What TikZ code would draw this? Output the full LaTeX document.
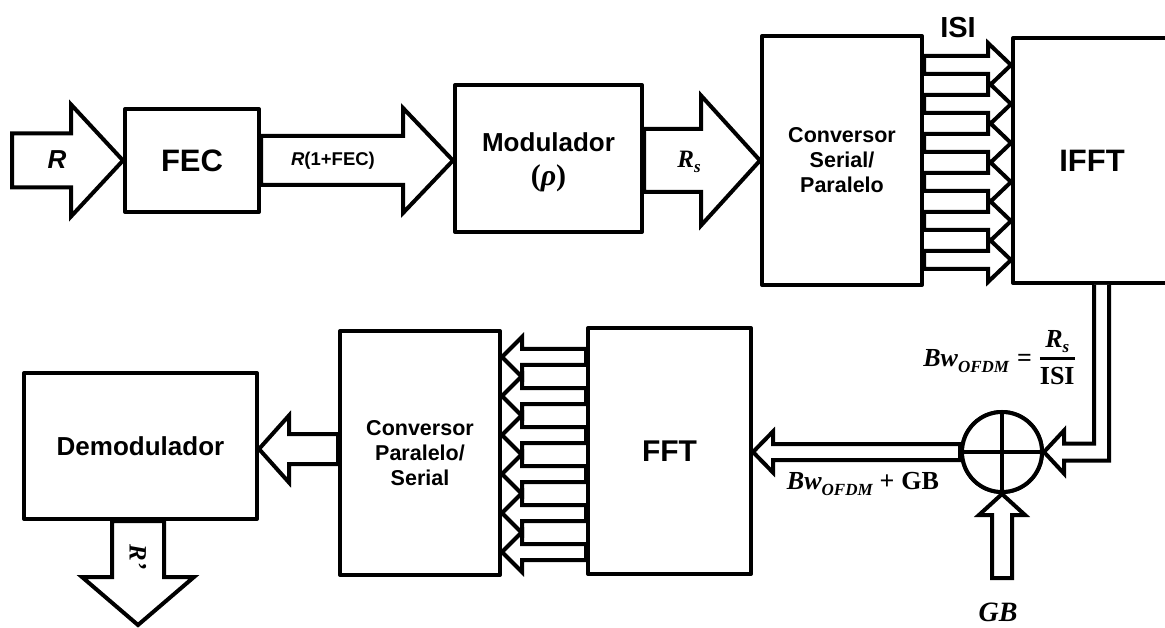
\RequirePackage{fix-cm}
\documentclass[tikz,border=0pt]{standalone}
\usepackage{fontspec}
\setmainfont{Liberation Sans}
\newfontfamily\lserif{Liberation Serif}
\newcommand{\bisf}{\lserif\bfseries\itshape}
\newcommand{\lowtxt}[3]{\raisebox{-#1}{\fontsize{#2}{#2}\selectfont #3}}
\usetikzlibrary{calc}
\newcommand{\hbarrow}[5]{%
  \draw[barrow] let \p1=(#1), \p2=(#2), \n1={\x2-(#5)} in
    (\x1,{\y2+#3}) -- (\n1,{\y2+#3}) -- (\n1,{\y2+#4}) -- (\x2,\y2)
    -- (\n1,{\y2-#4}) -- (\n1,{\y2-#3}) -- (\x1,{\y2-#3}) -- cycle;}
\newcommand{\vbarrow}[5]{%
  \draw[barrow] let \p1=(#1), \p2=(#2), \n1={\y2+(#5)} in
    ({\x2+#3},\y1) -- ({\x2+#3},\n1) -- ({\x2+#4},\n1) -- (\x2,\y2)
    -- ({\x2-#4},\n1) -- ({\x2-#3},\n1) -- ({\x2-#3},\y1) -- cycle;}
\begin{document}
\begin{tikzpicture}[x=1pt,y=-1pt,
  box/.style={draw, line width=4pt, fill=white, line join=round, inner sep=0pt, align=center},
  barrow/.style={draw, line width=4pt, fill=white, line join=miter, miter limit=10},
  lbl/.style={inner sep=0pt}]
\useasboundingbox (0,0) rectangle (1165,628);
\clip (0,0) rectangle (1165,628);
% boxes
\node[box, minimum width=134pt, minimum height=103pt, font=\bfseries\fontsize{31}{37}\selectfont] (fec) at (192,160.5) {FEC};
\node[box, minimum width=187pt, minimum height=147pt, font=\bfseries\fontsize{26}{34}\selectfont] (mod) at (548.5,158.5) {\rule{0pt}{26pt}Modulador\\{\lserif\bfseries\fontsize{30}{34}\selectfont(\textit{ρ})}};
\node[box, minimum width=160pt, minimum height=249pt, font=\bfseries\fontsize{21.5}{25}\selectfont] (csp) at (842,160.5) {Conversor\\Serial/\\Paralelo};
\node[box, minimum width=158pt, minimum height=245pt, font=\bfseries\fontsize{31}{37}\selectfont] (ifft) at (1092,160.5) {IFFT};
\node[box, minimum width=163pt, minimum height=246pt, font=\bfseries\fontsize{30}{36}\selectfont] (fft) at (669.5,451) {FFT};
\node[box, minimum width=160pt, minimum height=244pt, font=\bfseries\fontsize{21.5}{25}\selectfont] (cps) at (420,453) {Conversor\\Paralelo/\\Serial};
\node[box, minimum width=233pt, minimum height=146pt, font=\bfseries\fontsize{26}{31}\selectfont] (demod) at (140.5,446) {Demodulador};
\node[draw, circle, line width=4pt, minimum size=80pt, inner sep=0pt, fill=white] (sum) at (1002,452) {};
% block arrows
\coordinate (rin) at (12,159);
\hbarrow{rin}{fec.west}{27pt}{56pt}{52pt}
\hbarrow{fec.east}{mod.west |- fec.east}{24.5pt}{52.5pt}{50pt}
\hbarrow{mod.east}{csp.west}{31.5pt}{65pt}{59pt}
\foreach \k in {0,...,5}{
  \coordinate (ta\k) at (0,65+39*\k);
  \hbarrow{csp.east |- ta\k}{ifft.west |- ta\k}{9pt}{22pt}{23pt}
}
\foreach \k in {0,...,5}{
  \coordinate (tb\k) at (0,357+39*\k);
  \hbarrow{fft.west |- tb\k}{cps.east |- tb\k}{8pt}{20pt}{-20pt}
}
\coordinate (dm) at (0,449);
\hbarrow{cps.west |- dm}{demod.east |- dm}{15pt}{33.5pt}{-30pt}
\coordinate (rout) at (138,625);
\vbarrow{demod.south -| rout}{rout}{26pt}{56pt}{48pt}
\coordinate (gbin) at (1002,578);
\vbarrow{gbin}{sum.south}{10pt}{23pt}{-21pt}
\hbarrow{sum.west}{fft.east |- sum.west}{8pt}{20.5pt}{-20pt}
\coordinate (fo) at (1101.5,0);
\draw[barrow] let \p1=(ifft.south -| fo), \p2=(sum.east) in
  ({\x1-7.5pt},\y1) -- ({\x1-7.5pt},{\y2+8.5pt}) -- ({\x2+20pt},{\y2+8.5pt}) -- ({\x2+20pt},{\y2+21.5pt})
  -- (\x2,\y2) -- ({\x2+20pt},{\y2-21.5pt}) -- ({\x2+20pt},{\y2-8.5pt}) -- ({\x1+7.5pt},{\y2-8.5pt}) -- ({\x1+7.5pt},\y1);
% summing junction on top
\draw[line width=4pt, fill=white] (sum.center) circle (40pt);
\draw[line width=4pt] (sum.north) -- (sum.south) (sum.west) -- (sum.east);
% labels
\node[lbl, font=\bfseries\fontsize{29}{33}\selectfont] (isi) at (958,28) {ISI};
\node[lbl, font=\bfseries\itshape\fontsize{26}{30}\selectfont] (lr) at (57,160) {R};
\node[lbl, font=\bfseries\fontsize{18.5}{22}\selectfont] (lrf) at (333,161) {\textit{R}(1+FEC)};
\node[lbl, font=\bisf\fontsize{25}{29}\selectfont] (lrs) at (689,162) {R\lowtxt{5pt}{17}{s}};
\node[lbl, font=\bisf\fontsize{26}{30}\selectfont] (lbw) at (999,360) {Bw\lowtxt{6pt}{17}{OFDM}\hspace{8pt}{\upshape =}\hspace{8pt}\setlength{\arrayrulewidth}{2.2pt}\begin{tabular}{@{}c@{}}R\lowtxt{5pt}{17}{s}\\[1pt]\hline\rule{0pt}{25pt}{\upshape ISI}\end{tabular}};
\node[lbl, font=\bisf\fontsize{26}{30}\selectfont] (lbg) at (863,484) {Bw\lowtxt{6pt}{17}{OFDM}\hspace{7pt}{\upshape +\hspace{7pt}GB}};
\node[lbl, font=\bisf\fontsize{28}{32}\selectfont] (lgb) at (998,612) {GB};
\node[lbl, rotate=-90, font=\bisf\fontsize{25}{29}\selectfont] (lrp) at (138,557) {R’};
\end{tikzpicture}
\end{document}
